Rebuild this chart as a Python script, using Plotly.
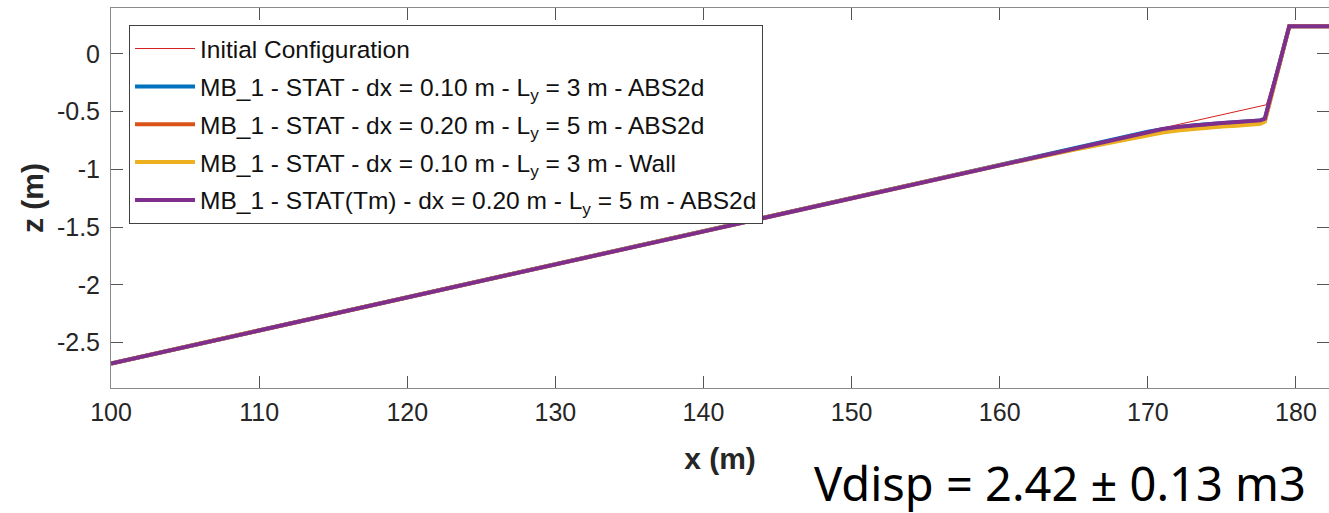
import plotly.graph_objects as go

# Cross-shore positions (m) and bed elevations (m)
x_initial = [100.0, 178.0, 179.55, 182.3]
z_initial = [-2.68, -0.44, 0.24, 0.24]

x_profile = [100.0, 150.0, 160.0, 165.0, 168.0, 170.0, 171.0, 172.0, 173.0, 174.0,
             175.0, 176.0, 177.0, 177.6, 177.9, 179.55, 182.3]
z_abs2d_dx010 = [-2.68, -1.245, -0.958, -0.815, -0.730, -0.674, -0.652, -0.634, -0.620, -0.608,
                 -0.599, -0.592, -0.585, -0.577, -0.562, 0.24, 0.24]
z_abs2d_dx020 = [-2.68, -1.245, -0.962, -0.826, -0.748, -0.695, -0.674, -0.657, -0.643, -0.632,
                 -0.623, -0.615, -0.607, -0.598, -0.580, 0.24, 0.24]
z_wall_dx010 = [-2.68, -1.245, -0.964, -0.830, -0.753, -0.700, -0.680, -0.663, -0.649, -0.638,
                -0.629, -0.621, -0.612, -0.604, -0.585, 0.24, 0.24]
z_tm_dx020 = [-2.68, -1.245, -0.958, -0.815, -0.729, -0.672, -0.650, -0.632, -0.618, -0.606,
              -0.597, -0.590, -0.583, -0.575, -0.560, 0.24, 0.24]

series = [
    ("MB_1 - STAT - dx = 0.10 m - L<sub>y</sub> = 3 m - ABS2d", z_abs2d_dx010, "#0072BD"),
    ("MB_1 - STAT - dx = 0.20 m - L<sub>y</sub> = 5 m - ABS2d", z_abs2d_dx020, "#D95319"),
    ("MB_1 - STAT - dx = 0.10 m - L<sub>y</sub> = 3 m - Wall", z_wall_dx010, "#EDB120"),
    ("MB_1 - STAT(Tm) - dx = 0.20 m - L<sub>y</sub> = 5 m - ABS2d", z_tm_dx020, "#7E2F8E"),
]

fig = go.Figure()
fig.add_trace(go.Scatter(x=x_initial, y=z_initial, mode="lines",
                         name="Initial Configuration", legendgroup="g0",
                         line=dict(color="#D42020", width=1)))
for i, (name, z, color) in enumerate(series, start=1):
    fig.add_trace(go.Scatter(x=x_profile, y=z, mode="lines", name=name,
                             legendgroup=f"g{i}",
                             line=dict(color=color, width=4)))

axis_common = dict(
    showline=True, linecolor="#8a8a8a", linewidth=1, mirror="allticks",
    ticks="inside", ticklen=12, tickcolor="#555555", tickwidth=1,
    showgrid=False, zeroline=False,
    tickfont=dict(family="Liberation Sans, Arial", size=25, color="#262626"),
)

fig.update_layout(
    width=1329, height=513,
    margin=dict(l=111, r=0, t=8, b=125),
    paper_bgcolor="white", plot_bgcolor="white",
    font=dict(family="Liberation Sans, Arial", color="#262626"),
    xaxis=dict(range=[100, 182.23], tickvals=[100, 110, 120, 130, 140, 150, 160, 170, 180],
               ticklabelstandoff=2,
               title=dict(text="<b>x (m)</b>", font=dict(size=30, color="#262626"), standoff=22),
               **axis_common),
    yaxis=dict(range=[-2.892, 0.398], tickvals=[0, -0.5, -1, -1.5, -2, -2.5],
               ticktext=["0", "-0.5", "-1", "-1.5", "-2", "-2.5"],
               ticklabelstandoff=5,
               title=dict(text="<b>z (m)</b>", font=dict(size=30, color="#262626"), standoff=4),
               **axis_common),
    legend=dict(x=0.0148, y=0.955, xanchor="left", yanchor="top",
                bgcolor="white", bordercolor="#404040", borderwidth=1,
                font=dict(family="Liberation Sans, Arial", size=24.5, color="#111111"),
                itemwidth=60, tracegroupgap=3),
    showlegend=True,
)

fig.add_annotation(text="Vdisp = 2.42 ± 0.13 m3", xref="paper", yref="paper",
                   x=(812 - 111) / 1218, y=1 - (483 - 8) / 380,
                   xanchor="left", yanchor="middle", showarrow=False,
                   font=dict(family="Noto Sans", size=47, color="black"))

fig.write_html("out.html")
